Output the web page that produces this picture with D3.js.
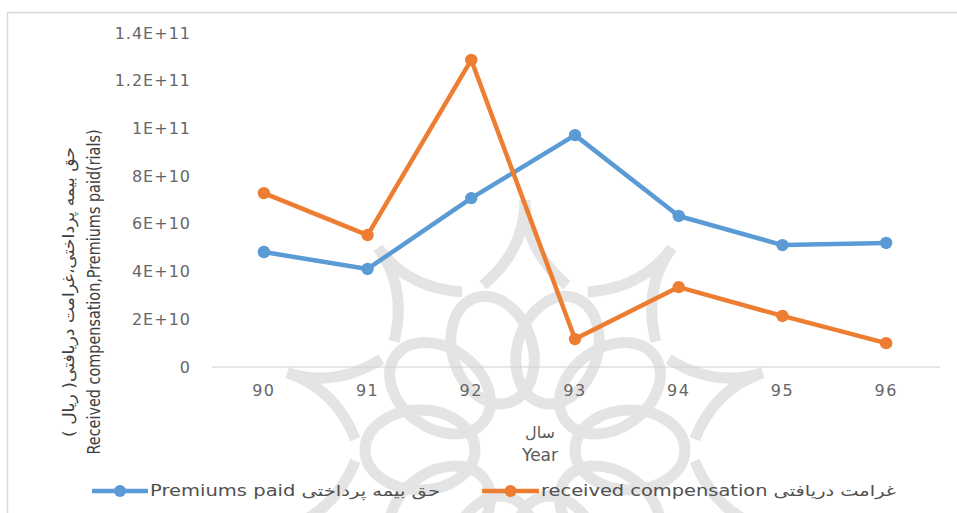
<!DOCTYPE html>
<html>
<head>
<meta charset="utf-8">
<script src="https://cdn.jsdelivr.net/npm/d3@7/dist/d3.min.js"></script>
<style>
  html, body { margin: 0; padding: 0; background: #fff; }
  svg { display: block; }
  text { font-family: "DejaVu Sans", sans-serif; }
</style>
</head>
<body>
<svg id="chart" width="957" height="513"></svg>
<script>
const years = ["90", "91", "92", "93", "94", "95", "96"];
const premiumsPaid = [4.82e10, 4.11e10, 7.08e10, 9.72e10, 6.33e10, 5.11e10, 5.20e10];
const receivedCompensation = [7.29e10, 5.53e10, 1.287e11, 1.17e10, 3.35e10, 2.14e10, 1.00e10];
const yTicks = [0, 2e10, 4e10, 6e10, 8e10, 1e11, 1.2e11, 1.4e11];
const yTickLabels = ["0", "2E+10", "4E+10", "6E+10", "8E+10", "1E+11", "1.2E+11", "1.4E+11"];
const seriesNames = ["Premiums paid حق  بیمه پرداختی", "received compensation غرامت دریافتی"];
const seriesColors = ["#5B9BD5", "#ED7D31"];

const svg = d3.select("#chart");

// faint background watermark (decorative rosette)
const wm = svg.append("g").attr("transform", "translate(525,450)")
  .attr("fill", "none").attr("stroke", "#e4e4e4").attr("stroke-width", 11);
d3.range(10).forEach(k => {
  const a = k * Math.PI / 5;
  wm.append("ellipse")
    .attr("cx", Math.cos(a) * 105).attr("cy", Math.sin(a) * 105)
    .attr("rx", 40).attr("ry", 55)
    .attr("transform", `rotate(${a * 180 / Math.PI + 90},${Math.cos(a) * 105},${Math.sin(a) * 105})`);
  const a2 = a + Math.PI / 10;
  const r1 = 170, r2 = 250;
  wm.append("path")
    .attr("d", `M${Math.cos(a2 - 0.25) * r1},${Math.sin(a2 - 0.25) * r1} Q${Math.cos(a2) * 200},${Math.sin(a2) * 200} ${Math.cos(a2) * r2},${Math.sin(a2) * r2} Q${Math.cos(a2) * 200},${Math.sin(a2) * 200} ${Math.cos(a2 + 0.25) * r1},${Math.sin(a2 + 0.25) * r1}`);
});

// chart frame
svg.append("path")
  .attr("d", "M7.5,520 L7.5,12.5 L960,12.5")
  .attr("fill", "none").attr("stroke", "#d9d9d9").attr("stroke-width", 1.5);

const x = d3.scaleBand().domain(years).range([212, 938]);
const y = d3.scaleLinear().domain([0, 1.4e11]).range([367, 33]);

// x axis line
svg.append("line")
  .attr("x1", 212).attr("x2", 940)
  .attr("y1", y(0)).attr("y2", y(0))
  .attr("stroke", "#d0d0d0").attr("stroke-width", 1.2);

// y tick labels
svg.append("g").selectAll("text").data(yTicks).join("text")
  .attr("x", 191).attr("y", d => y(d))
  .attr("dy", "0.35em")
  .attr("text-anchor", "end")
  .attr("font-size", 16).attr("letter-spacing", "1px").attr("fill", "#666")
  .text((d, i) => yTickLabels[i]);

// x tick labels
svg.append("g").selectAll("text").data(years).join("text")
  .attr("x", d => x(d) + x.bandwidth() / 2).attr("y", 390)
  .attr("dy", "0.35em")
  .attr("text-anchor", "middle")
  .attr("font-size", 16).attr("letter-spacing", "1.5px").attr("fill", "#666")
  .text(d => d);

// axis titles
svg.append("text")
  .attr("x", 540).attr("y", 438)
  .attr("text-anchor", "middle").attr("font-size", 16).attr("fill", "#595959")
  .text("سال");
svg.append("text")
  .attr("x", 540).attr("y", 461)
  .attr("text-anchor", "middle").attr("font-size", 17).attr("fill", "#595959")
  .attr("font-family", "Liberation Sans Narrow, Liberation Sans, sans-serif")
  .text("Year");

const yt = svg.append("g").attr("transform", "translate(0,292) rotate(-90)");
yt.append("text")
  .attr("x", 0).attr("y", 74)
  .attr("text-anchor", "middle").attr("font-size", 16).attr("fill", "#404040")
  .attr("textLength", 290).attr("lengthAdjust", "spacingAndGlyphs")
  .text("حق بیمه پرداختی،غرامت دریافتی( ریال )");
yt.append("text")
  .attr("x", 0).attr("y", 100)
  .attr("text-anchor", "middle").attr("font-size", 17).attr("fill", "#404040")
  .attr("font-family", "Liberation Sans Narrow, Liberation Sans, sans-serif")
  .attr("textLength", 325).attr("lengthAdjust", "spacingAndGlyphs")
  .text("Received compensation,Premiums paid(rials)");

// series
const series = [premiumsPaid, receivedCompensation];
const line = d3.line()
  .x((d, i) => x(years[i]) + x.bandwidth() / 2)
  .y(d => y(d));

series.forEach((vals, s) => {
  const g = svg.append("g");
  g.append("path").datum(vals)
    .attr("d", line)
    .attr("fill", "none")
    .attr("stroke", seriesColors[s])
    .attr("stroke-width", 4.5)
    .attr("stroke-linejoin", "round")
    .attr("stroke-linecap", "round");
  g.selectAll("circle").data(vals).join("circle")
    .attr("cx", (d, i) => x(years[i]) + x.bandwidth() / 2)
    .attr("cy", d => y(d))
    .attr("r", 6.2)
    .attr("fill", seriesColors[s]);
});

// legend
const legendItems = [
  { x1: 92, x2: 148, tx: 150 },
  { x1: 482, x2: 539, tx: 541 }
];
legendItems.forEach((it, i) => {
  svg.append("line")
    .attr("x1", it.x1).attr("x2", it.x2)
    .attr("y1", 491).attr("y2", 491)
    .attr("stroke", seriesColors[i]).attr("stroke-width", 4.5);
  svg.append("circle")
    .attr("cx", (it.x1 + it.x2) / 2).attr("cy", 491).attr("r", 6)
    .attr("fill", seriesColors[i]);
  svg.append("text")
    .attr("x", it.tx).attr("y", 491).attr("dy", "0.35em")
    .attr("font-size", 15).attr("fill", "#505050")
    .attr("textLength", i === 0 ? 290 : 355).attr("lengthAdjust", "spacingAndGlyphs")
    .text(seriesNames[i]);
});
</script>
</body>
</html>
